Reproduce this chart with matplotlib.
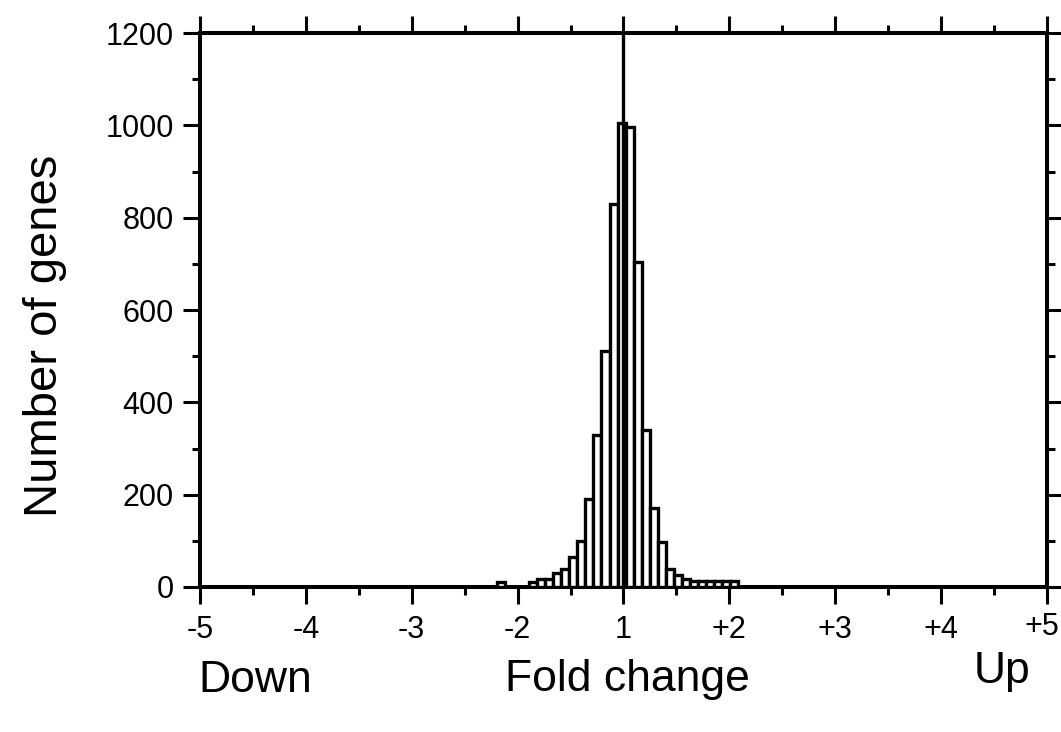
import matplotlib
matplotlib.use("Agg")
import matplotlib.pyplot as plt
import matplotlib.transforms as mtransforms
import numpy as np
from matplotlib.ticker import MultipleLocator

# ---- data ----
bin_start = -1.196          # left edge of first bin (axis units, 0 = fold change 1)
bin_width = 0.076
counts = [10, 0, 0, 0, 11, 18, 18, 30, 40, 65, 100, 190, 330, 512, 829,
          1004, 997, 705, 339, 171, 98, 38, 27, 18, 12, 12, 12, 14, 14, 14]
xtick_pos = [-4, -3, -2, -1, 0, 1, 2, 3, 4]
xtick_labels = ['-5', '-4', '-3', '-2', '1', '+2', '+3', '+4', '+5']
ytick_pos = [0, 200, 400, 600, 800, 1000, 1200]

plt.rcParams['font.family'] = ['Liberation Sans', 'DejaVu Sans']

fig = plt.figure(figsize=(10.61, 7.32), dpi=100)
ax = fig.add_axes([200/1061, (732-587)/732, (1047-200)/1061, (587-33)/732])

lefts = bin_start + np.arange(len(counts)) * bin_width
ax.bar(lefts, counts, width=bin_width, align='edge', facecolor='white',
       edgecolor='black', linewidth=2.4, zorder=3)
ax.axvline(0, color='black', linewidth=2.4, zorder=4)

ax.set_xlim(-4, 4)
ax.set_ylim(0, 1200)

for s in ax.spines.values():
    s.set_linewidth(2.9)

ax.set_xticks(xtick_pos)
ax.set_xticklabels(xtick_labels, fontsize=22)
ax.xaxis.set_minor_locator(MultipleLocator(0.5))
ax.set_yticks(ytick_pos)
ax.set_yticklabels([str(v) for v in ytick_pos], fontsize=22)
ax.yaxis.set_minor_locator(MultipleLocator(100))

ax.tick_params(axis='both', which='major', direction='out', length=12,
               width=2.2, top=True, right=True, labeltop=False, labelright=False)
ax.tick_params(axis='both', which='minor', direction='out', length=6,
               width=2.2, top=True, right=True)
ax.tick_params(axis='x', which='major', pad=8)
ax.tick_params(axis='y', which='major', pad=7)

# nudge the last x label slightly left so it stays inside the figure
last = ax.get_xticklabels()[-1]
last.set_transform(last.get_transform() +
                   mtransforms.ScaledTranslation(-5/100, 3/100, fig.dpi_scale_trans))

fig.text(45/1061, 1 - 336/732, 'Number of genes', rotation=90, fontsize=34,
         ha='center', va='center')
fig.text(255/1061, 1 - 680/732, 'Down', fontsize=32, ha='center', va='center')
fig.text(627/1061, 1 - 680/732, 'Fold change', fontsize=32, ha='center', va='center')
fig.text(1002/1061, 1 - 672/732, 'Up', fontsize=32, ha='center', va='center')

fig.savefig('out.png', dpi=100, facecolor='white')
